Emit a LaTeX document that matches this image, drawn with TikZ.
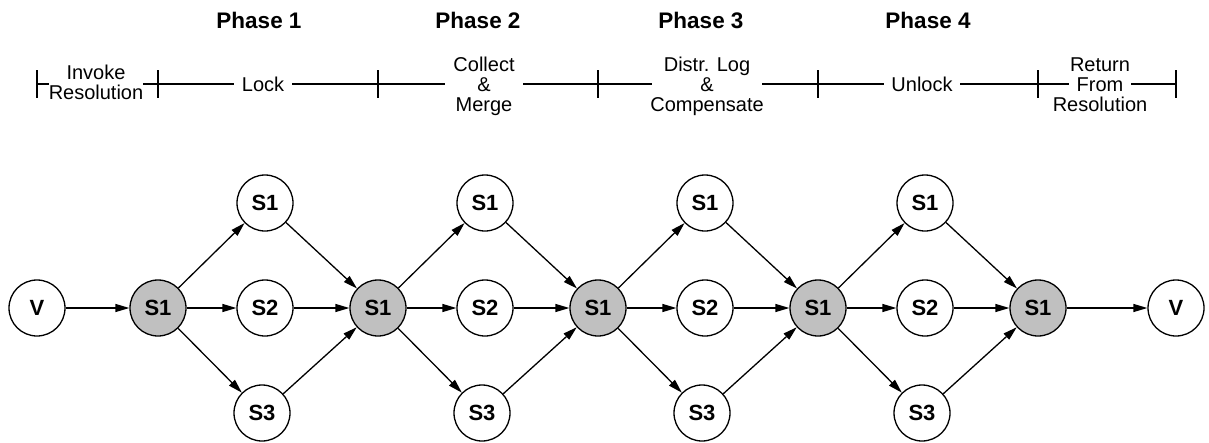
\documentclass[tikz,border=0pt]{standalone}
\usepackage[svgnames]{xcolor}
\usepackage{fontspec}
\setmainfont{Liberation Sans}
\usepackage{tikz}
\usetikzlibrary{arrows.meta}

\begin{document}
\begin{tikzpicture}[x=1pt, y=-1pt, line width=1.3pt, >={Triangle[length=14pt,width=8pt]},
      every node/.append style={font=\fontsize{20}{20}\selectfont}]
    \tikzstyle{site} = [circle,draw,fill=white,minimum size=56pt,inner sep=0pt,
                        font=\fontsize{22}{22}\selectfont\bfseries]
    \tikzstyle{master} = [site,fill=Silver]
    \tikzstyle{stage} = [fill=white,align=center,inner xsep=8pt,inner ysep=2pt]
    \tikzstyle{phase} = [font=\fontsize{22.5}{22.5}\selectfont\bfseries]
    \useasboundingbox (0,0) rectangle (1209,442);

    % the sites
    \node (V0) [site] at (37,308) {V};
    \foreach \i in {0,...,4} {
      \node (M\i) [master] at (158+220*\i,308) {S1};
    }
    \foreach \i in {0,...,3} {
      \node (A\i) [site] at (265+220*\i,203) {S1};
      \node (B\i) [site] at (265+220*\i,308) {S2};
      \node (C\i) [site] at (262+220*\i,413) {S3};
    }
    \node (V1) [site] at (1176,308) {V};

    % messages
    \draw[->] (V0) -- (M0);
    \foreach \i [count=\j] in {0,...,3} {
      \draw[->] (M\i) -- (A\i);
      \draw[->] (M\i) -- (B\i);
      \draw[->] (M\i) -- (C\i);
      \draw[->] (A\i) -- (M\j);
      \draw[->] (B\i) -- (M\j);
      \draw[->] (C\i) -- (M\j);
    }
    \draw[->] (M4) -- (V1);

    % time line
    \coordinate (bar) at (0,84);
    \coordinate (t0) at (V0 |- bar);
    \foreach \i [count=\j] in {0,...,4} {
      \coordinate (t\j) at (M\i |- bar);
    }
    \coordinate (t6) at (V1 |- bar);
    \draw (t0) -- (t6);
    \foreach \t in {t0,t1,t2,t3,t4,t5,t6} {
      \draw ([yshift=14pt]\t) -- ([yshift=-14pt]\t);
    }
    \node (invoke) [stage,inner xsep=0pt] at (96,82) {Invoke\\Resolution};
    \node (lock) [stage] at (263,84) {Lock};
    \node (merge) [stage] at (484,86) {Collect\\\&\\Merge};
    \node (comp) [stage,inner xsep=-2pt] at (707,86) {Distr. Log\\\&\\Compensate};
    \node (unlock) [stage,inner xsep=7pt] at (922,84) {Unlock};
    \node (return) [stage,inner xsep=-16pt] at (1100,85) {Return\\From\\Resolution};

    % phases
    \foreach \x/\n in {259/1,478/2,701/3,928/4} {
      \node (phase\n) [phase] at (\x,20) {Phase \n};
    }
\end{tikzpicture}
\end{document}
